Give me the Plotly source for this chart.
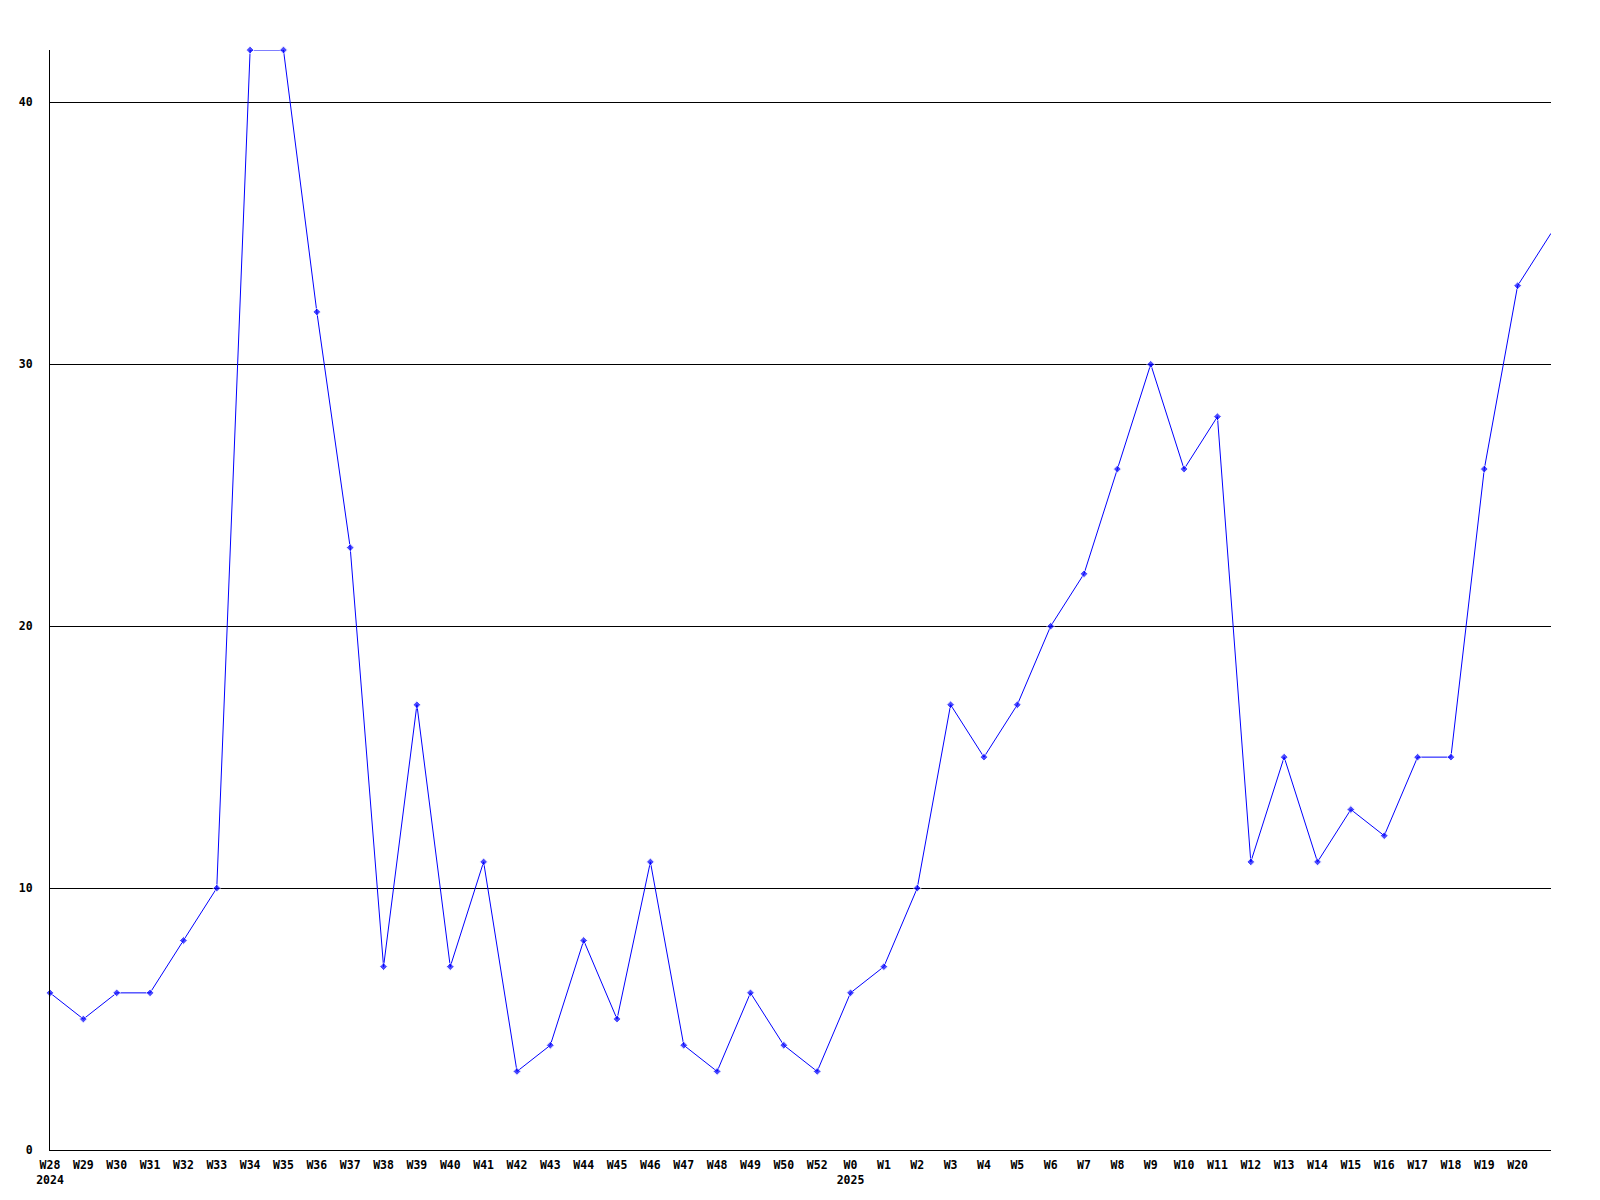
import plotly.graph_objects as go

weeks = ["W28", "W29", "W30", "W31", "W32", "W33", "W34", "W35", "W36", "W37", "W38", "W39",
         "W40", "W41", "W42", "W43", "W44", "W45", "W46", "W47", "W48", "W49", "W50", "W52",
         "W0", "W1", "W2", "W3", "W4", "W5", "W6", "W7", "W8", "W9", "W10", "W11", "W12",
         "W13", "W14", "W15", "W16", "W17", "W18", "W19", "W20", ""]
years = {"W28": "2024", "W0": "2025"}
values = [6, 5, 6, 6, 8, 10, 42, 42, 32, 23, 7, 17,
          7, 11, 3, 4, 8, 5, 11, 4, 3, 6, 4, 3,
          6, 7, 10, 17, 15, 17, 20, 22, 26, 30, 26, 28, 11,
          15, 11, 13, 12, 15, 15, 26, 33, 35]
y_ticks = [0, 10, 20, 30, 40]

x = list(range(len(values)))
tick_text = [w + ("<br>" + years[w] if w in years else "") for w in weeks]

fig = go.Figure()
fig.add_trace(go.Scatter(
    x=x, y=values, mode="lines+markers",
    line=dict(color="#0000ff", width=1),
    marker=dict(symbol="diamond", size=[6] * (len(values) - 1) + [0], color="#0000ff"),
    cliponaxis=False,
    hoverinfo="x+y",
))

font = dict(family="DejaVu Sans Mono", size=11.5, color="black", weight="bold")
fig.update_layout(
    width=1600, height=1200,
    margin=dict(l=42, r=57, t=42, b=58),
    plot_bgcolor="white", paper_bgcolor="white",
    showlegend=False,
    xaxis=dict(
        range=[0, len(values) - 1],
        tickmode="array", tickvals=x[:-1], ticktext=tick_text[:-1],
        showgrid=False, zeroline=False,
        showline=True, linecolor="black", linewidth=1,
        ticks="", tickfont=font, tickangle=0, ticklabelstandoff=4,
        automargin=False,
    ),
    yaxis=dict(
        range=[0, 42],
        tickmode="array", tickvals=y_ticks, ticktext=[str(v) for v in y_ticks],
        showgrid=True, gridcolor="black", gridwidth=1,
        zeroline=False,
        showline=True, linecolor="black", linewidth=1,
        ticks="", tickfont=font, ticklabelstandoff=14,
        automargin=False,
    ),
)
fig.write_html("out.html")
